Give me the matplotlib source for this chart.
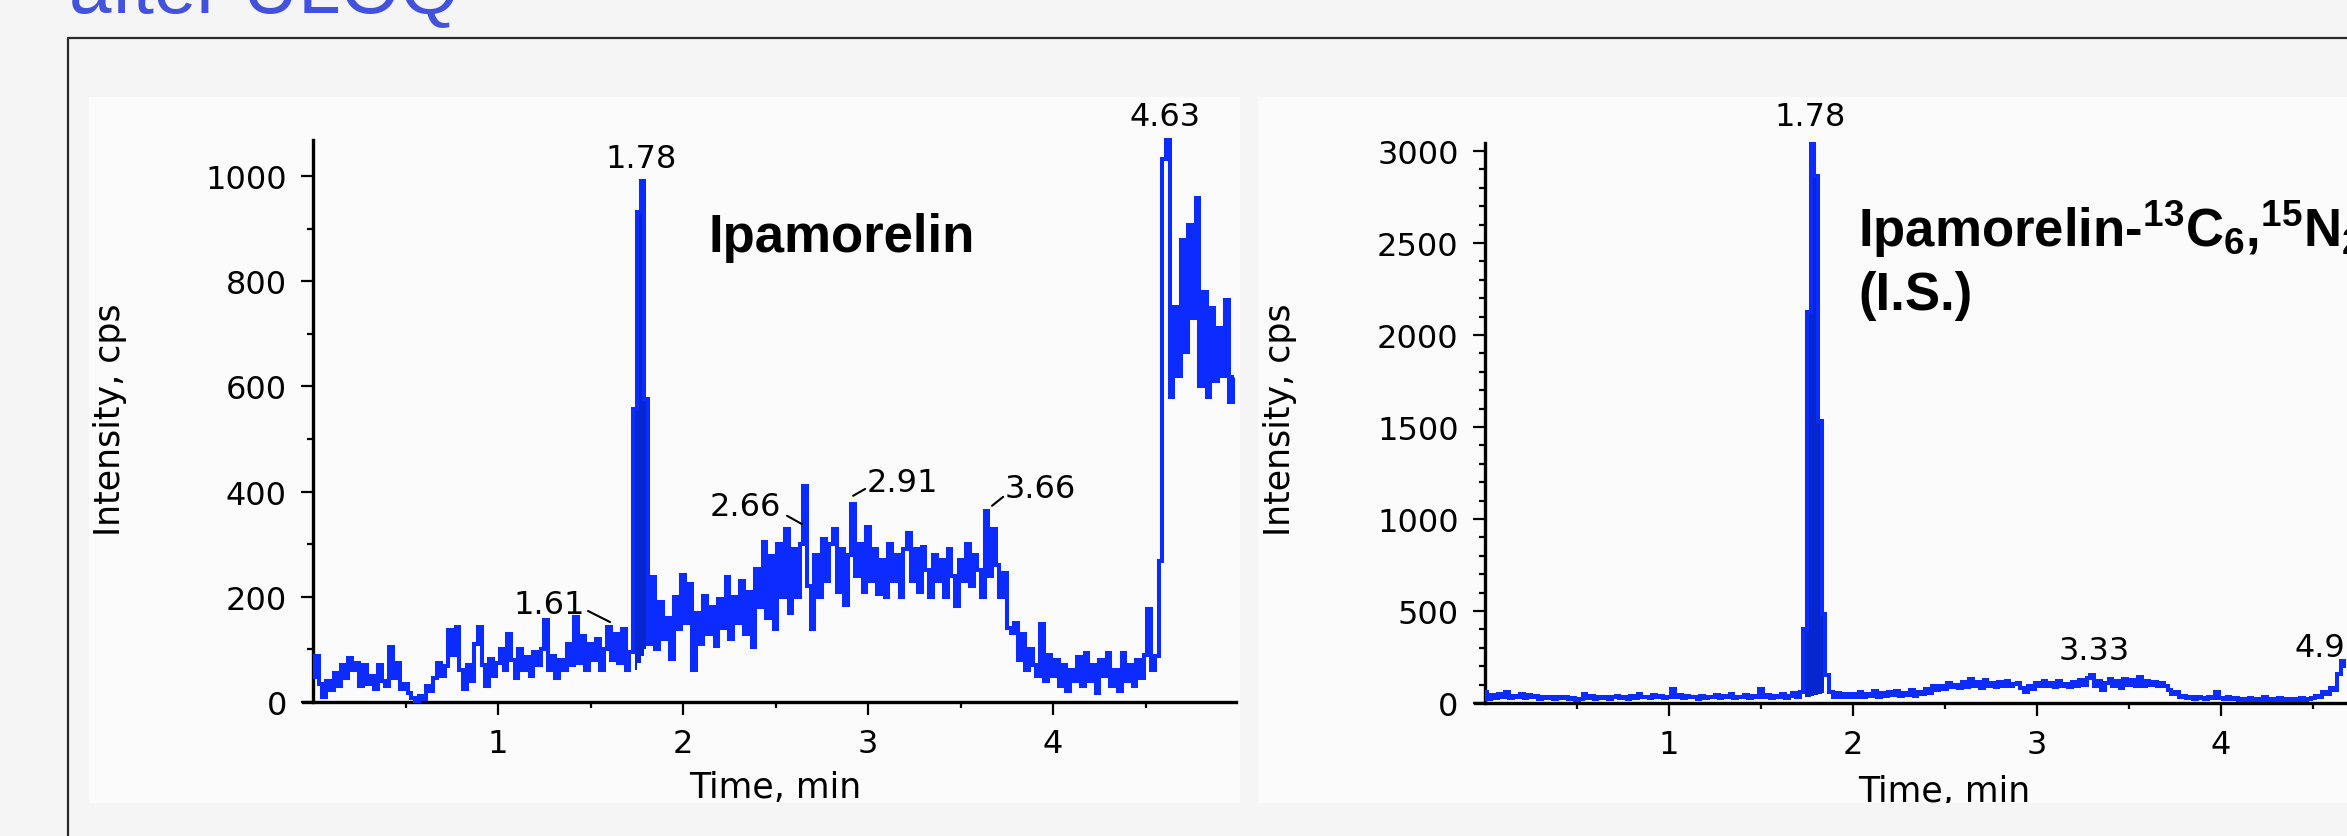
import numpy as np
import matplotlib
matplotlib.use("Agg")
import matplotlib.pyplot as plt
from matplotlib.patches import Rectangle
from matplotlib.lines import Line2D
from matplotlib.ticker import FixedLocator

# ---------------- data ----------------
step = 0.02  # min between samples

left_vals = [
    47, 88, 35, 10, 40, 22, 55, 30, 70, 45,
    83, 60, 75, 30, 70, 35, 50, 25, 70, 40,
    30, 104, 45, 75, 25, 35, 18, 8, 2, 12,
    5, 30, 20, 45, 75, 50, 68, 136, 90, 142,
    60, 25, 70, 40, 110, 142, 70, 30, 82, 50,
    75, 100, 60, 129, 80, 45, 100, 60, 85, 50,
    95, 70, 100, 155, 60, 88, 45, 80, 60, 110,
    70, 162, 75, 126, 60, 110, 80, 120, 60, 100,
    143, 80, 130, 75, 139, 60, 95, 557, 931, 990,
    576, 110, 237, 100, 190, 120, 160, 82, 200, 139,
    242, 150, 225, 60, 170, 110, 202, 130, 180, 107,
    195, 140, 237, 120, 200, 150, 230, 130, 210, 104,
    253, 180, 304, 160, 278, 139, 300, 200, 329, 170,
    290, 200, 300, 410, 220, 139, 280, 200, 310, 230,
    300, 329, 210, 290, 185, 280, 376, 240, 300, 210,
    332, 230, 290, 205, 270, 200, 300, 230, 280, 200,
    290, 322, 230, 290, 210, 294, 250, 200, 280, 230,
    270, 200, 290, 240, 183, 270, 230, 300, 220, 280,
    250, 200, 364, 240, 329, 260, 200, 246, 140, 132,
    150, 80, 130, 60, 100, 70, 50, 148, 40, 90,
    50, 80, 30, 70, 20, 60, 40, 85, 30, 94,
    40, 70, 18, 80, 50, 94, 30, 60, 20, 94,
    40, 70, 30, 80, 45, 90, 177, 60, 87, 268,
    1032, 1068, 580, 750, 620, 878, 665, 906, 730, 958,
    600, 780, 580, 749, 610, 711, 620, 764, 570, 617,
]
left_spike_t = [1.74, 1.76, 1.78, 1.80]
left_spike_top = [557, 931, 990, 576]
left_spike_low = [60, 75, 88, 100]

right_vals = [
    60, 20, 45, 25, 50, 30, 58, 25, 40, 30,
    50, 25, 45, 30, 40, 20, 35, 25, 30, 20,
    30, 25, 30, 20, 25, 15, 20, 50, 25, 40,
    20, 30, 25, 35, 20, 30, 40, 25, 35, 20,
    40, 25, 50, 30, 35, 25, 45, 30, 40, 25,
    35, 77, 30, 45, 25, 40, 30, 35, 20, 40,
    25, 35, 30, 45, 25, 40, 30, 50, 25, 35,
    30, 45, 25, 40, 30, 77, 30, 45, 25, 40,
    30, 50, 25, 40, 55, 30, 60, 402, 2125, 3040,
    2865, 1533, 484, 150, 60, 30, 55, 35, 50, 30,
    50, 35, 60, 30, 50, 40, 65, 35, 55, 40,
    60, 45, 65, 40, 55, 45, 70, 40, 60, 50,
    75, 55, 90, 70, 95, 75, 110, 85, 100, 80,
    115, 85, 130, 90, 115, 80, 125, 95, 110, 85,
    115, 95, 120, 90, 105, 110, 80, 60, 90, 75,
    110, 90, 120, 95, 110, 85, 120, 95, 105, 85,
    115, 95, 125, 100, 135, 152, 90, 120, 70, 110,
    130, 90, 120, 80, 130, 100, 125, 90, 140, 95,
    120, 100, 115, 90, 110, 95, 70, 50, 60, 30,
    40, 25, 35, 20, 30, 25, 20, 30, 25, 60,
    25, 20, 30, 20, 25, 15, 20, 15, 25, 15,
    20, 15, 35, 15, 20, 15, 25, 15, 20, 15,
    20, 15, 25, 15, 20, 25, 40, 30, 60, 50,
    80, 70, 160, 230, 200,
]
right_spike_t = [1.74, 1.76, 1.78, 1.80, 1.82, 1.84]
right_spike_top = [402, 2125, 3040, 2865, 1533, 484]
right_spike_low = [30, 35, 40, 45, 50, 55]

x_major = [1, 2, 3, 4, 5]
x_minor = [0.5, 1.5, 2.5, 3.5, 4.5]
left_y_major = [0, 200, 400, 600, 800, 1000]
left_y_minor = [100, 300, 500, 700, 900]
right_y_major = [0, 500, 1000, 1500, 2000, 2500, 3000]
right_y_minor = [v for v in range(100, 3000, 100) if v % 500 != 0]

left_peaks = [("1.78", 1.773, 1034), ("4.63", 4.605, 1114)]
left_leader_labels = [
    ("1.61", 1.278, 186, (1.486, 173), (1.605, 152)),
    ("2.66", 2.335, 371, (2.562, 354), (2.643, 338)),
    ("2.91", 3.184, 418, (2.984, 405), (2.919, 392)),
    ("3.66", 3.930, 405, (3.730, 390), (3.670, 373)),
]
right_peaks = [("1.78", 1.766, 3185), ("3.33", 3.31, 283)]

# ---------------- styling ----------------
plt.rcParams["font.family"] = ["DejaVu Sans"]
plt.rcParams["mathtext.fontset"] = "custom"
plt.rcParams["mathtext.rm"] = "Liberation Sans:bold"
plt.rcParams["mathtext.it"] = "Liberation Sans:bold"
plt.rcParams["mathtext.bf"] = "Liberation Sans:bold"
plt.rcParams["mathtext.default"] = "rm"

W, H, DPI = 2347, 837, 100
BG = "#f5f5f5"
PANEL = "#fbfbfb"
TRACE = "#0c2cff"
DARK = "#0626d0"
TICKFS = 23
LABFS = 25
LW = 2.9

fig = plt.figure(figsize=(W / DPI, H / DPI), dpi=DPI, facecolor=BG)


def fxp(px):
    return px / W


def fyp(py):
    return 1 - py / H


# title (cut off at top)
fig.text(fxp(69), fyp(12), "after ULOQ", ha="left", va="baseline",
         fontsize=55, color="#4252dc", family=["Liberation Sans", "DejaVu Sans"])

# frame lines
fig.add_artist(Line2D([fxp(68), fxp(68), fxp(2400)], [fyp(900), fyp(39), fyp(39)],
                      transform=fig.transFigure, color="#2a2a2a", lw=1.6))

# panels
lp = Rectangle((fxp(89), fyp(804)), (1240 - 89) / W, (804 - 98) / H,
               transform=fig.transFigure, facecolor=PANEL, edgecolor="none", zorder=0)
rp = Rectangle((fxp(1258), fyp(804)), (2400 - 1258) / W, (804 - 98) / H,
               transform=fig.transFigure, facecolor=PANEL, edgecolor="none", zorder=0)
fig.add_artist(lp)
fig.add_artist(rp)


def style_axes(ax, ymaj, ymin):
    ax.patch.set_visible(False)
    for s in ("top", "right"):
        ax.spines[s].set_visible(False)
    ax.spines["left"].set_position(("data", 0))
    ax.spines["left"].set_linewidth(2.4)
    ax.spines["bottom"].set_linewidth(2.4)
    ax.xaxis.set_major_locator(FixedLocator(x_major))
    ax.xaxis.set_minor_locator(FixedLocator(x_minor))
    ax.yaxis.set_major_locator(FixedLocator(ymaj))
    ax.yaxis.set_minor_locator(FixedLocator(ymin))
    ax.xaxis.set_major_formatter(plt.FuncFormatter(lambda v, p: f"{v:g}"))
    ax.yaxis.set_major_formatter(plt.FuncFormatter(lambda v, p: f"{v:g}"))
    ax.tick_params(which="major", direction="out", length=9, width=1.6,
                   labelsize=TICKFS, pad=10, colors="black")
    ax.tick_params(which="minor", direction="out", length=4, width=1.6)


# ---------------- left chart ----------------
ax1 = fig.add_axes([fxp(303), fyp(703), (1236.2 - 303) / W, (703 - 141.2) / H])
ax1.set_xlim(-0.055, 4.99)
ax1.set_ylim(0, 1068)
style_axes(ax1, left_y_major, left_y_minor)
tl = np.arange(len(left_vals)) * step
ax1.fill_between(left_spike_t, left_spike_low, left_spike_top, step="mid",
                 color=DARK, lw=0, zorder=2)
ax1.plot(tl, left_vals, drawstyle="steps-mid", color=TRACE, lw=LW, zorder=3,
         clip_on=False, solid_joinstyle="miter", solid_capstyle="butt")
for txt, x, y in left_peaks:
    ax1.text(x, y, txt, ha="center", va="center", fontsize=TICKFS, clip_on=False)
for txt, x, y, p0, p1 in left_leader_labels:
    ax1.text(x, y, txt, ha="center", va="center", fontsize=TICKFS, clip_on=False)
    ax1.annotate("", xy=p1, xytext=p0,
                 arrowprops=dict(arrowstyle="-", color="black", lw=1.5,
                                 shrinkA=0, shrinkB=0))
fig.text(fxp(708), fyp(252), "Ipamorelin", ha="left", va="baseline",
         fontsize=38, fontweight="bold", family=["Liberation Sans", "DejaVu Sans"])
fig.text(fxp(110), fyp(420), "Intensity, cps", rotation=90, ha="center",
         va="center", fontsize=LABFS)
fig.text(fxp(775), fyp(798), "Time, min", ha="center", va="baseline",
         fontsize=LABFS)

# ---------------- right chart ----------------
ax2 = fig.add_axes([fxp(1474.9), fyp(704), (2405 - 1474.9) / W, (704 - 143.7) / H])
ax2.set_xlim(-0.055, 5.0)
ax2.set_ylim(0, 3045)
style_axes(ax2, right_y_major, right_y_minor)
tr = np.arange(len(right_vals)) * step
ax2.fill_between(right_spike_t, right_spike_low, right_spike_top, step="mid",
                 color=DARK, lw=0, zorder=2)
ax2.plot(tr, right_vals, drawstyle="steps-mid", color=TRACE, lw=LW, zorder=3,
         clip_on=False, solid_joinstyle="miter", solid_capstyle="butt")
for txt, x, y in right_peaks:
    ax2.text(x, y, txt, ha="center", va="center", fontsize=TICKFS, clip_on=False)
ax2.text(4.397, 304, "4.9", ha="left", va="center", fontsize=TICKFS, clip_on=False)

fig.text(fxp(1858), fyp(247),
         r"Ipamorelin-$^{13}$C$_{6}$,$^{15}$N$_{2}$",
         ha="left", va="baseline", fontsize=38, fontweight="bold",
         family=["Liberation Sans", "DejaVu Sans"])
fig.text(fxp(1858), fyp(310), "(I.S.)", ha="left", va="baseline",
         fontsize=38, fontweight="bold", family=["Liberation Sans", "DejaVu Sans"])
fig.text(fxp(1280), fyp(420), "Intensity, cps", rotation=90, ha="center",
         va="center", fontsize=LABFS)
xl2 = fig.text(fxp(1944), fyp(802), "Time, min", ha="center", va="baseline",
               fontsize=LABFS)
xl2.set_clip_path(rp)

fig.savefig("out.png", dpi=DPI, facecolor=BG)
